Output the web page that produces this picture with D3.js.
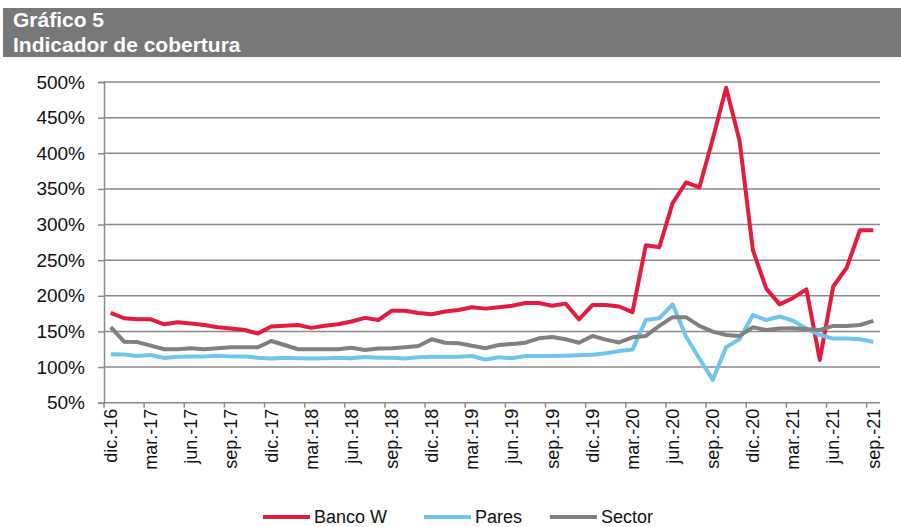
<!DOCTYPE html>
<html>
<head>
<meta charset="utf-8">
<script src="https://cdn.jsdelivr.net/npm/d3@7/dist/d3.min.js"></script>
<style>
  body { margin: 0; background: #fff; }
  svg { display: block; font-family: "Liberation Sans", Arial, sans-serif; }
</style>
</head>
<body>
<svg id="chart" width="901" height="527"></svg>
<script>
// Category labels: monthly, dic.-16 .. sep.-21
const monthNames = ['ene.', 'feb.', 'mar.', 'abr.', 'may.', 'jun.', 'jul.', 'ago.', 'sep.', 'oct.', 'nov.', 'dic.'];
const categories = [];
for (let y = 2016, m = 11; y < 2021 || (y === 2021 && m <= 8); m++) {
    if (m === 12) { m = 0; y++; }
    categories.push(monthNames[m] + '-' + String(y).slice(2));
}

// Series values (%)
const bancoW = [176, 168.5, 167, 167, 160, 163, 161, 159, 156, 154, 152, 147, 157, 158, 159, 155,
    158, 160, 164, 169, 166, 179, 179, 176, 174, 178, 180, 184, 182, 184, 186, 190, 190, 186,
    189, 167, 187, 187, 185, 177, 271, 268, 330, 359, 352, 420, 492, 418, 264, 210, 188, 197,
    209, 110, 213, 239, 292, 292];
const pares = [118, 117.6, 115.6, 117, 112.8, 114.5, 115, 115, 116, 115, 115, 113, 112, 113, 112.5,
    112, 112.5, 113, 112.5, 114, 113, 113, 112, 113.7, 114.6, 114.6, 114.6, 115.6, 110.4, 113.7,
    112.3, 115.6, 115.6, 115.6, 116, 116.5, 117.4, 119.4, 122.4, 124.5, 166, 168.5, 188, 143,
    112, 82, 128, 139, 173, 166, 171, 165, 154, 145, 140, 140, 139, 135.6];
const sector = [156, 135.6, 135, 130, 125, 125, 126.4, 125, 126.4, 127.8, 127.8, 127.8, 136.6, 131,
    125, 125, 125, 125, 127, 124, 126, 126.4, 127.8, 129.6, 139, 134.2, 133.3, 130, 126.4, 131,
    132.4, 134.2, 140.4, 142.2, 139, 134.2, 143.7, 138.5, 134.5, 141.8, 143.7, 157.7, 170, 170,
    157.7, 149.7, 145, 143.7, 155.8, 152, 154, 154.4, 153, 152, 157.7, 157.7, 159, 164.7];

const yTicks = [50, 100, 150, 200, 250, 300, 350, 400, 450, 500];

const series = [
    {name: 'Banco W', values: bancoW, color: '#E31B3F'},
    {name: 'Pares', values: pares, color: '#6EC6EC'},
    {name: 'Sector', values: sector, color: '#808080'}
];

const svg = d3.select('#chart');
const gridColor = '#8a8a8a';

// Header bar
svg.append('rect')
    .attr('x', 3).attr('y', 8)
    .attr('width', 898).attr('height', 49)
    .attr('fill', '#777777');

svg.append('text')
    .attr('x', 13).attr('y', 27)
    .attr('fill', '#fff')
    .style('font-size', '21px')
    .style('font-weight', 'bold')
    .text('Gráfico 5');

svg.append('text')
    .attr('x', 13).attr('y', 52)
    .attr('fill', '#fff')
    .style('font-size', '21px')
    .style('font-weight', 'bold')
    .text('Indicador de cobertura');

// Scales
const plot = {left: 104, right: 880, top: 82, bottom: 402.7};

const xScale = d3.scaleBand()
    .domain(categories)
    .range([plot.left, plot.right]);
const bw = xScale.bandwidth();

const yScale = d3.scaleLinear()
    .domain([50, 500])
    .range([plot.bottom, plot.top]);

// Gridlines
svg.append('g')
    .selectAll('line')
    .data(yTicks.slice(1))
    .enter()
    .append('line')
    .attr('x1', plot.left).attr('x2', plot.right)
    .attr('y1', d => yScale(d)).attr('y2', d => yScale(d))
    .attr('stroke', gridColor)
    .attr('stroke-width', 1.5);

// Y axis
const yAxis = svg.append('g')
    .attr('transform', `translate(${plot.left},0)`)
    .call(d3.axisLeft(yScale)
        .tickValues(yTicks)
        .tickSize(6)
        .tickPadding(13)
        .tickFormat(d => d + '%'));
yAxis.selectAll('path, line').attr('stroke', gridColor).attr('stroke-width', 1.5);
yAxis.selectAll('text')
    .attr('fill', '#111')
    .style('font-size', '19px')
    .style('font-family', '"Liberation Sans", Arial, sans-serif');

// X axis
const tickCats = categories.filter((d, i) => i % 3 === 0);
const xAxis = svg.append('g');
xAxis.append('line')
    .attr('x1', plot.left).attr('x2', plot.right)
    .attr('y1', plot.bottom).attr('y2', plot.bottom)
    .attr('stroke', gridColor)
    .attr('stroke-width', 1.5);
xAxis.selectAll('.tick')
    .data(tickCats)
    .enter()
    .append('line')
    .attr('x1', d => xScale(d)).attr('x2', d => xScale(d))
    .attr('y1', plot.bottom).attr('y2', plot.bottom + 5)
    .attr('stroke', gridColor)
    .attr('stroke-width', 1.5);
xAxis.selectAll('text')
    .data(tickCats)
    .enter()
    .append('text')
    .attr('transform', d => `translate(${xScale(d) + bw / 2},${plot.bottom + 6}) rotate(-90)`)
    .attr('text-anchor', 'end')
    .attr('dy', '0.35em')
    .attr('fill', '#111')
    .style('font-size', '18px')
    .text(d => d);

// Lines
const line = d3.line()
    .x((d, i) => xScale(categories[i]) + bw / 2)
    .y(d => yScale(d));

svg.append('g')
    .selectAll('path')
    .data(series)
    .enter()
    .append('path')
    .attr('d', d => line(d.values))
    .attr('fill', 'none')
    .attr('stroke', d => d.color)
    .attr('stroke-width', 4)
    .attr('stroke-linejoin', 'round');

// Legend
const legendX = [263, 424, 550];
const legend = svg.append('g')
    .selectAll('g')
    .data(series)
    .enter()
    .append('g')
    .attr('transform', (d, i) => `translate(${legendX[i]},517)`);

legend.append('line')
    .attr('x1', 0).attr('x2', 47)
    .attr('stroke', d => d.color)
    .attr('stroke-width', 4);

legend.append('text')
    .attr('x', 51)
    .attr('dy', '0.35em')
    .attr('fill', '#111')
    .style('font-size', '18px')
    .text(d => d.name);
</script>
</body>
</html>
